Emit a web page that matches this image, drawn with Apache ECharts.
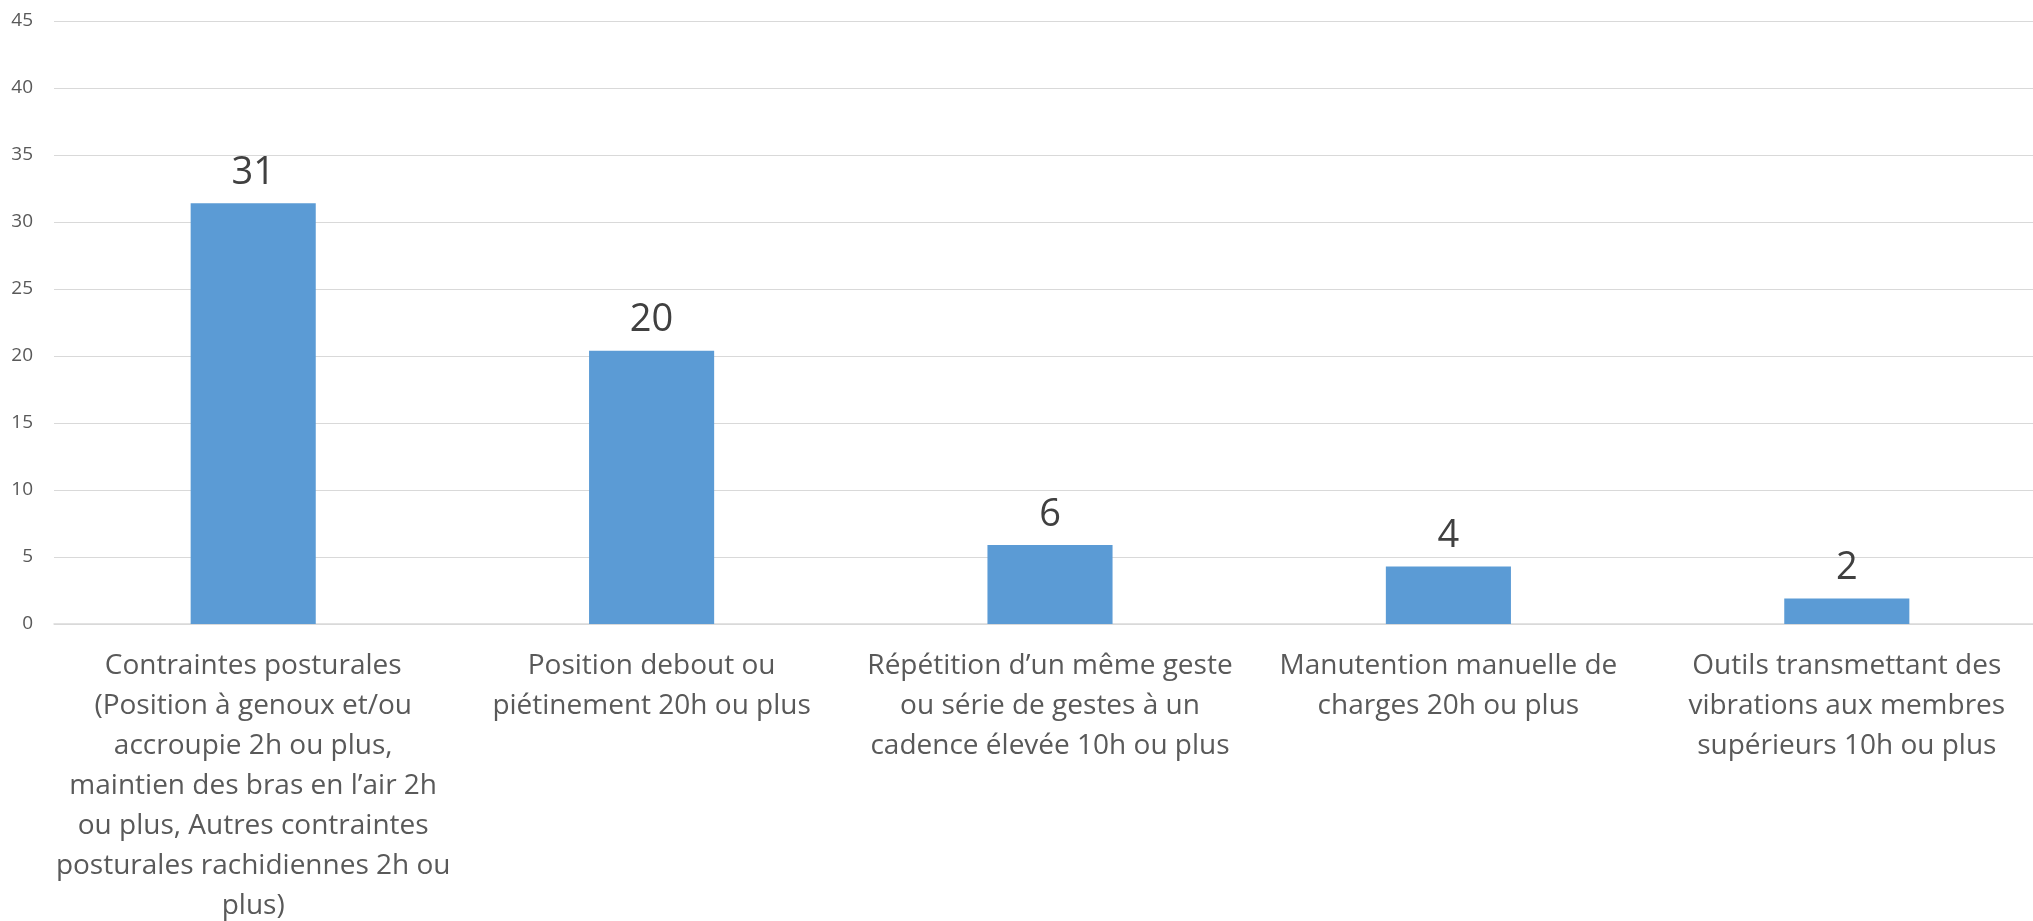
<!DOCTYPE html>
<html>
<head>
<meta charset="utf-8">
<script src="https://cdn.jsdelivr.net/npm/echarts@6/dist/echarts.min.js"></script>
<style>
  html, body { margin: 0; padding: 0; background: #fff; }
  #chart { width: 2033px; height: 921px; }
</style>
</head>
<body>
<div id="chart"></div>
<script>
// catégories (retours à la ligne comme sur le graphique)
const categories = [
  'Contraintes posturales\n(Position à genoux et/ou\naccroupie 2h ou plus,\nmaintien des bras en l’air 2h\nou plus, Autres contraintes\nposturales rachidiennes 2h ou\nplus)',
  'Position debout ou\npiétinement 20h ou plus',
  'Répétition d’un même geste\nou série de gestes à un\ncadence élevée 10h ou plus',
  'Manutention manuelle de\ncharges 20h ou plus',
  'Outils transmettant des\nvibrations aux membres\nsupérieurs 10h ou plus'
]
const values = [31.4, 20.4, 5.9, 4.3, 1.9]

const yMin = 0
const yMax = 45
const yStep = 5

const chart = echarts.init(document.getElementById('chart'))
chart.setOption({
  animation: false,
  grid: {
    left: 54,
    right: -13,
    top: 21,
    bottom: 297,
    outerBoundsMode: 'none'
  },
  xAxis: {
    type: 'category',
    data: categories,
    axisTick: { show: false },
    axisLine: { lineStyle: { color: '#d9d9d9', width: 1.5 } },
    axisLabel: {
      interval: 0,
      margin: 22,
      color: '#595959',
      fontFamily: 'Open Sans',
      fontSize: 28,
      lineHeight: 40,
      align: 'center'
    }
  },
  yAxis: {
    type: 'value',
    min: yMin,
    max: yMax,
    interval: yStep,
    axisLine: { show: false },
    axisTick: { show: false },
    splitLine: { lineStyle: { color: '#d9d9d9', width: 1 } },
    axisLabel: {
      margin: 21,
      color: '#595959',
      fontFamily: 'Open Sans',
      fontSize: 19
    }
  },
  series: [{
    type: 'bar',
    data: values,
    barWidth: '31.4%',
    itemStyle: { color: '#5b9bd5' },
    label: {
      show: true,
      position: 'top',
      distance: 11,
      color: '#404040',
      fontFamily: 'Open Sans',
      fontSize: 38,
      formatter: p => Math.round(p.value)
    }
  }]
})
</script>
</body>
</html>
